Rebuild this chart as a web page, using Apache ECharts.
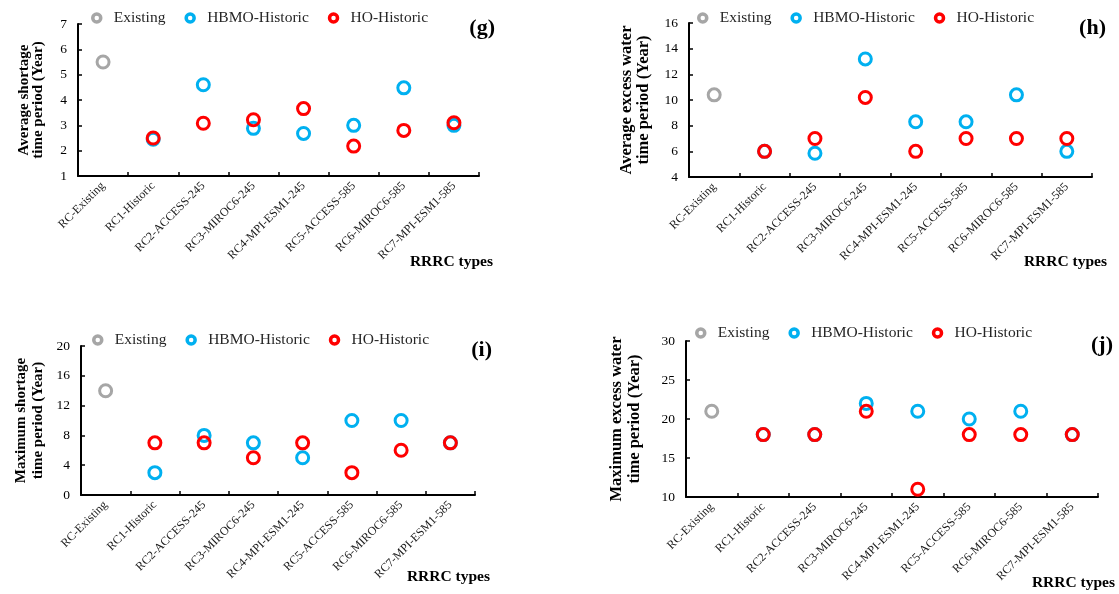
<!DOCTYPE html>
<html>
<head>
<meta charset="utf-8">
<script src="https://cdn.jsdelivr.net/npm/echarts@6/dist/echarts.min.js"></script>
<style>
html,body{margin:0;padding:0;background:#fff;}
#chart{width:1119px;height:594px;}
</style>
</head>
<body>
<div id="chart"></div>
<script>
// ---- data ----
const categories = ['RC-Existing','RC1-Historic','RC2-ACCESS-245','RC3-MIROC6-245','RC4-MPI-ESM1-245','RC5-ACCESS-585','RC6-MIROC6-585','RC7-MPI-ESM1-585'];
const seriesNames = ['Existing','HBMO-Historic','HO-Historic'];

// (g) Average shortage time period
const gExisting = [5.5, null, null, null, null, null, null, null];
const gHBMO     = [null, 2.45, 4.6, 2.88, 2.68, 3.0, 4.48, 3.0];
const gHO       = [null, 2.5, 3.08, 3.22, 3.66, 2.18, 2.8, 3.1];

// (h) Average excess water time period
const hExisting = [10.4, null, null, null, null, null, null, null];
const hHBMO     = [null, 6, 5.85, 13.2, 8.3, 8.3, 10.4, 6];
const hHO       = [null, 6, 7, 10.2, 6, 7, 7, 7];

// (i) Maximum shortage time period
const iExisting = [14, null, null, null, null, null, null, null];
const iHBMO     = [null, 3, 8, 7, 5, 10, 10, 7];
const iHO       = [null, 7, 7, 5, 7, 3, 6, 7];

// (j) Maximum excess water time period
const jExisting = [21, null, null, null, null, null, null, null];
const jHBMO     = [null, 18, 18, 22, 21, 20, 21, 18];
const jHO       = [null, 18, 18, 21, 11, 18, 18, 18];

const yTicks = {
  g: {min: 1, max: 7, interval: 1},
  h: {min: 4, max: 16, interval: 2},
  i: {min: 0, max: 20, interval: 4},
  j: {min: 10, max: 30, interval: 5}
};
const yNames = {
  g: 'Average shortage\ntime period (Year)',
  h: 'Average excess water\ntime period (Year)',
  i: 'Maximum shortage\ntime period (Year)',
  j: 'Maximum excess water\ntime period (Year)'
};
const xName = 'RRRC types';

// ---- styling / layout ----
const colors = ['#a6a6a6', '#00b0f0', '#ff0000'];
const SERIF = '"Liberation Serif","Times New Roman",serif';

const panels = [
  {key:'g', data:[gExisting,gHBMO,gHO], grid:{left:78, top:24, width:401, height:152}, nameGap:33, fs:15, lh:14,
   legend:{left:91, top:10}, label:{x:495, y:28}, xname:{x:493, y:262}},
  {key:'h', data:[hExisting,hHBMO,hHO], grid:{left:689, top:23, width:403, height:154}, nameGap:37, fs:16.5, lh:17,
   legend:{left:697, top:10}, label:{x:1106, y:28}, xname:{x:1107, y:262}},
  {key:'i', data:[iExisting,iHBMO,iHO], grid:{left:81, top:346, width:394, height:149}, nameGap:34, fs:15, lh:17,
   legend:{left:92, top:332}, label:{x:492, y:350}, xname:{x:490, y:577}},
  {key:'j', data:[jExisting,jHBMO,jHO], grid:{left:686, top:341, width:412, height:156}, nameGap:42, fs:16.5, lh:18,
   legend:{left:695, top:325}, label:{x:1113, y:345}, xname:{x:1115, y:583}}
];

const option = {
  backgroundColor: '#fff',
  animation: false,
  grid: [], xAxis: [], yAxis: [], series: [], legend: [], graphic: []
};

panels.forEach((p, idx) => {
  option.grid.push(Object.assign({containLabel:false}, p.grid));
  option.xAxis.push({
    type: 'category', gridIndex: idx, data: categories, boundaryGap: true,
    axisLine: {show: true, lineStyle: {color: '#000', width: 2}},
    axisTick: {show: true, inside: true, length: 4, lineStyle: {color: '#000', width: 1.5}},
    axisLabel: {interval: 0, rotate: 45, fontFamily: SERIF, fontSize: 12, color: '#1a1a1a', margin: 8},
    splitLine: {show: false}
  });
  const t = yTicks[p.key];
  option.yAxis.push({
    type: 'value', gridIndex: idx, min: t.min, max: t.max, interval: t.interval,
    name: yNames[p.key], nameLocation: 'middle', nameGap: p.nameGap,
    nameTextStyle: {fontFamily: SERIF, fontSize: p.fs, fontWeight: 'bold', color: '#000', lineHeight: p.lh, align: 'center'},
    axisLine: {show: true, lineStyle: {color: '#000', width: 2}},
    axisTick: {show: true, inside: true, length: 4, lineStyle: {color: '#000', width: 1.5}},
    axisLabel: {fontFamily: SERIF, fontSize: 13.5, color: '#000', margin: 11},
    splitLine: {show: false}
  });
  seriesNames.forEach((nm, si) => {
    option.series.push({
      type: 'scatter', name: nm, xAxisIndex: idx, yAxisIndex: idx,
      data: p.data[si], symbol: 'circle', symbolSize: 12,
      itemStyle: {color: 'rgba(255,255,255,0)', borderColor: colors[si], borderWidth: 3, opacity: 1},
      z: 2 + si
    });
  });
  option.legend.push({
    left: p.legend.left, top: p.legend.top, orient: 'horizontal', padding: 0,
    itemWidth: 8, itemHeight: 8, itemGap: 19,
    icon: 'circle',
    textStyle: {fontFamily: SERIF, fontSize: 15.5, color: '#262626', padding: [0, 0, 0, 8]},
    data: seriesNames.map((nm, si) => ({name: nm, itemStyle: {color: 'rgba(255,255,255,0)', borderColor: colors[si], borderWidth: 3.5}}))
  });
  option.graphic.push({
    type: 'text', x: p.label.x, y: p.label.y,
    style: {text: '(' + p.key + ')', font: 'bold 22px ' + SERIF, fill: '#000', textAlign: 'right', textVerticalAlign: 'middle'}
  });
  option.graphic.push({
    type: 'text', x: p.xname.x, y: p.xname.y,
    style: {text: xName, font: 'bold 15.5px ' + SERIF, fill: '#000', textAlign: 'right', textVerticalAlign: 'middle'}
  });
});

const chart = echarts.init(document.getElementById('chart'), null, {renderer: 'canvas'});
chart.setOption(option);
</script>
</body>
</html>
